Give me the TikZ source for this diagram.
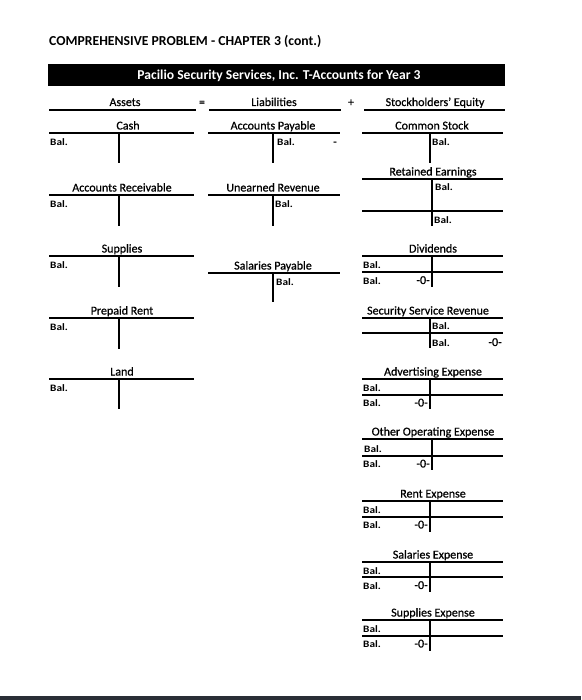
\documentclass[tikz,border=0pt]{standalone}
\usepackage{fontspec}
\setmainfont{Carlito}
\newfontfamily\heavyfont[FakeBold=0.7]{Carlito}
\definecolor{stripgray}{RGB}{42,46,54}
\newcommand{\baltxt}{\scalebox{1.15}[1]{Bal.}}
\begin{document}
\begin{tikzpicture}[x=1pt, y=-1pt,
  hline/.style={line width=1.1pt},
  tline/.style={line width=1.8pt},
  vline/.style={line width=2.2pt},
  ttitle/.style={anchor=base, inner sep=0pt, font=\heavyfont\fontsize{12}{13}\selectfont},
  eqtext/.style={anchor=base, inner sep=0pt, font=\heavyfont\fontsize{12}{13}\selectfont},
  bal/.style={anchor=base west, inner sep=0pt, font=\fontsize{9.8}{10}\selectfont\bfseries},
  zero/.style={anchor=base east, inner sep=0pt, font=\heavyfont\fontsize{12}{10}\selectfont}]

  \useasboundingbox (0, 0) rectangle (581, 700);
  \fill[white] (0, 0) rectangle (581, 700);

  % ================================================================
  % Heading and banner
  % ================================================================

  \node[anchor=base west, inner sep=0pt, font=\fontsize{13.7}{14}\selectfont\bfseries]
    (heading) at (49, 46) {COMPREHENSIVE PROBLEM - CHAPTER 3 (cont.)};

  \fill[black] (48, 64) rectangle (505, 86);
  \node[anchor=base, inner sep=0pt, text=white, font=\fontsize{13.6}{14}\selectfont\bfseries]
    (banner) at (279, 79.5) {Pacilio Security Services, Inc. T-Accounts for Year 3};

  % ================================================================
  % Accounting equation row
  % ================================================================

  \draw[hline] (49, 110) -- (196, 110);
  \node[eqtext] (assets) at (125, 106) {Assets};
  \node[eqtext] (eqsign) at (202, 106) {=};
  \draw[hline] (209, 110) -- (341, 110);
  \node[eqtext] (liab) at (274, 106) {Liabilities};
  \node[eqtext] (plussign) at (351, 106) {+};
  \draw[hline] (364, 110) -- (505, 110);
  \node[eqtext] (equity) at (435, 106) {Stockholders’ Equity};

  % ================================================================
  % Assets column
  % ================================================================

  % --- Cash ---
  \node[ttitle] (cash) at (128, 129.5) {Cash};
  \draw[tline] (49, 133) -- (194, 133);
  \draw[vline] (119, 133) -- (119, 163);
  \node[bal] (cashbal) at (50, 145.5) {\baltxt};

  % --- Accounts Receivable ---
  \node[ttitle] (ar) at (122, 191.5) {Accounts Receivable};
  \draw[tline] (49, 195) -- (194, 195);
  \draw[vline] (119, 195) -- (119, 226);
  \node[bal] (arbal) at (50, 207.5) {\baltxt};

  % --- Supplies ---
  \node[ttitle] (supp) at (122, 252.5) {Supplies};
  \draw[tline] (49, 256) -- (194, 256);
  \draw[vline] (119, 256) -- (119, 287);
  \node[bal] (suppbal) at (50, 268.5) {\baltxt};

  % --- Prepaid Rent ---
  \node[ttitle] (prent) at (122, 314.5) {Prepaid Rent};
  \draw[tline] (49, 318) -- (194, 318);
  \draw[vline] (119, 318) -- (119, 349);
  \node[bal] (prentbal) at (50, 330.5) {\baltxt};

  % --- Land ---
  \node[ttitle] (land) at (122, 375.5) {Land};
  \draw[tline] (49, 379) -- (194, 379);
  \draw[vline] (119, 379) -- (119, 409);
  \node[bal] (landbal) at (50, 391.5) {\baltxt};

  % ================================================================
  % Liabilities column
  % ================================================================

  % --- Accounts Payable ---
  \node[ttitle] (ap) at (273, 129.5) {Accounts Payable};
  \draw[tline] (208, 133) -- (340, 133);
  \draw[vline] (273, 133) -- (273, 163);
  \node[bal] (apbal) at (277, 145.5) {\baltxt};
  \node[zero] (apdash) at (337, 145.5) {-};

  % --- Unearned Revenue ---
  \node[ttitle] (unrev) at (273, 191.5) {Unearned Revenue};
  \draw[tline] (208, 195) -- (340, 195);
  \draw[vline] (273, 195) -- (273, 226);
  \node[bal] (unrevbal) at (275, 207.5) {\baltxt};

  % --- Salaries Payable ---
  \node[ttitle] (salpay) at (273, 269.5) {Salaries Payable};
  \draw[tline] (208, 273) -- (340, 273);
  \draw[vline] (273, 273) -- (273, 302);
  \node[bal] (salpaybal) at (276, 285) {\baltxt};

  % ================================================================
  % Stockholders' equity column
  % ================================================================

  % --- Common Stock ---
  \node[ttitle] (cstock) at (432, 129.5) {Common Stock};
  \draw[tline] (362, 133) -- (503, 133);
  \draw[vline] (430, 133) -- (430, 163);
  \node[bal] (cstockbal) at (432, 145.5) {\baltxt};

  % --- Retained Earnings ---
  \node[ttitle] (reearn) at (433, 175.5) {Retained Earnings};
  \draw[tline] (362, 179) -- (503, 179);
  \draw[tline] (362, 211) -- (503, 211);
  \draw[vline] (432, 179) -- (432, 226);
  \node[bal] (reearnbal) at (435, 191) {\baltxt};
  \node[bal] (reearnend) at (434, 223.5) {\baltxt};

  % --- Dividends ---
  \node[ttitle] (divs) at (433, 252.5) {Dividends};
  \draw[tline] (362, 256) -- (503, 256);
  \draw[tline] (362, 272) -- (503, 272);
  \draw[vline] (432, 256) -- (432, 287);
  \node[bal] (divsbal) at (363, 268) {\baltxt};
  \node[bal] (divsend) at (363, 284) {\baltxt};
  \node[zero] (divszero) at (430, 284) {-0-};

  % --- Security Service Revenue ---
  \node[ttitle] (ssrev) at (428, 314.5) {Security Service Revenue};
  \draw[tline] (362, 318) -- (503, 318);
  \draw[tline] (362, 333) -- (503, 333);
  \draw[vline] (430, 318) -- (430, 348);
  \node[bal] (ssrevbal) at (432, 329.5) {\baltxt};
  \node[bal] (ssrevend) at (432, 346) {\baltxt};
  \node[zero] (ssrevzero) at (502, 346) {-0-};

  % --- Advertising Expense ---
  \node[ttitle] (advexp) at (433, 375.5) {Advertising Expense};
  \draw[tline] (362, 379) -- (503, 379);
  \draw[tline] (362, 395) -- (503, 395);
  \draw[vline] (430, 379) -- (430, 409);
  \node[bal] (advexpbal) at (363, 391) {\baltxt};
  \node[bal] (advexpend) at (363, 406.5) {\baltxt};
  \node[zero] (advexpzero) at (428, 406.5) {-0-};

  % --- Other Operating Expense ---
  \node[ttitle] (othexp) at (433, 435.5) {Other Operating Expense};
  \draw[tline] (362, 439) -- (503, 439);
  \draw[tline] (362, 456) -- (503, 456);
  \draw[vline] (432, 439) -- (432, 470);
  \node[bal] (othexpbal) at (364, 452) {\baltxt};
  \node[bal] (othexpend) at (363, 467.5) {\baltxt};
  \node[zero] (othexpzero) at (430, 467.5) {-0-};

  % --- Rent Expense ---
  \node[ttitle] (rentexp) at (433, 497.5) {Rent Expense};
  \draw[tline] (362, 501) -- (503, 501);
  \draw[tline] (362, 517) -- (503, 517);
  \draw[vline] (430, 501) -- (430, 532);
  \node[bal] (rentexpbal) at (363, 513) {\baltxt};
  \node[bal] (rentexpend) at (363, 528.5) {\baltxt};
  \node[zero] (rentexpzero) at (428, 528.5) {-0-};

  % --- Salaries Expense ---
  \node[ttitle] (salexp) at (433, 558.5) {Salaries Expense};
  \draw[tline] (362, 562) -- (503, 562);
  \draw[tline] (362, 577) -- (503, 577);
  \draw[vline] (430, 562) -- (430, 592);
  \node[bal] (salexpbal) at (363, 574) {\baltxt};
  \node[bal] (salexpend) at (363, 589) {\baltxt};
  \node[zero] (salexpzero) at (428, 589) {-0-};

  % --- Supplies Expense ---
  \node[ttitle] (supexp) at (433, 616.5) {Supplies Expense};
  \draw[tline] (362, 620) -- (503, 620);
  \draw[tline] (362, 636) -- (503, 636);
  \draw[vline] (430, 620) -- (430, 651);
  \node[bal] (supexpbal) at (363, 632) {\baltxt};
  \node[bal] (supexpend) at (363, 647.5) {\baltxt};
  \node[zero] (supexpzero) at (428, 647.5) {-0-};

  % --- dark strip along the bottom edge ---
  \fill[stripgray] (0, 696) rectangle (581, 700);

\end{tikzpicture}
\end{document}
